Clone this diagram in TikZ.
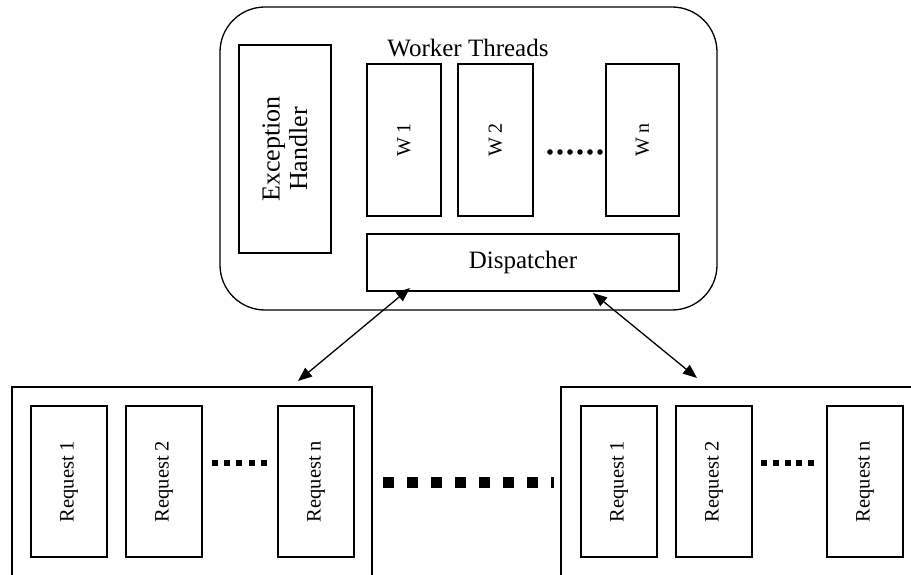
\documentclass[tikz,border=0pt]{standalone}
\usepackage{fontspec}
\setmainfont{Liberation Serif}
\usetikzlibrary{arrows.meta}
\begin{document}
\begin{tikzpicture}[x=1pt,y=-1pt,
  box/.style={draw, line width=1.2pt, inner sep=0pt},
  rbox/.style={box, rotate=90},
  wlab/.style={font=\fontsize{20}{22}\selectfont},
  rlab/.style={font=\fontsize{20.5}{22}\selectfont},
  big/.style={font=\fontsize{25}{27}\selectfont},
  link/.style={line width=1.3pt, {Triangle[length=14pt,width=11pt]}-{Triangle[length=14pt,width=11pt]}},
  sqdot/.style={fill=black}]
\useasboundingbox (0,0) rectangle (911,575);
\begin{scope}
\clip (0,0) rectangle (911,575);
% server
\node[box, rounded corners=45pt, line width=1.3pt, minimum width=497pt, minimum height=303pt] (server) at (468.5,158.5) {};
\node[big] (title) at (468,48) {Worker Threads};
\node[rbox, minimum width=208pt, minimum height=92pt, align=center, font=\fontsize{26}{27.5}\selectfont] (exc) at (285,149) {Exception\\Handler};
\node[rbox, wlab, minimum width=152pt, minimum height=74pt] (w1) at (404,140) {W 1};
\node[rbox, wlab, minimum width=152pt, minimum height=75pt] (w2) at (495.5,140) {W 2};
\node[rbox, wlab, minimum width=152pt, minimum height=73pt] (wn) at (642.5,140) {W n};
\node[box, big, minimum width=312pt, minimum height=57pt] (disp) at (523,262.5) {Dispatcher};
\foreach \i in {0,...,5} \fill (550+10*\i,152) circle (2.8pt);
% left queue
\node[box, minimum width=360pt, minimum height=213pt] (lq) at (192,493.5) {};
\node[rbox, rlab, minimum width=151pt, minimum height=76pt] (l1) at (69,481.5) {Request 1};
\node[rbox, rlab, minimum width=151pt, minimum height=76pt] (l2) at (164,481.5) {Request 2};
\node[rbox, rlab, minimum width=151pt, minimum height=76pt] (ln) at (316,481.5) {Request n};
\foreach \i in {0,...,4} \fill[sqdot] (212+12.2*\i,460) rectangle ++(6,6);
% right queue
\node[box, minimum width=369pt, minimum height=213pt] (rq) at (745.5,493.5) {};
\node[rbox, rlab, minimum width=151pt, minimum height=76pt] (r1) at (619,481.5) {Request 1};
\node[rbox, rlab, minimum width=151pt, minimum height=76pt] (r2) at (714,481.5) {Request 2};
\node[rbox, rlab, minimum width=151pt, minimum height=76pt] (rn) at (865,481.5) {Request n};
\foreach \i in {0,...,4} \fill[sqdot] (761+11.8*\i,460) rectangle ++(6,6);
% big dotted line between queues
\coordinate (bd1) at (383,482.5);
\coordinate (bd2) at (553.5,482.5);
\draw[line width=11pt, dash pattern=on 11pt off 13pt] (bd1) -- (bd2);
% arrows
\coordinate (a1) at (410,288);
\coordinate (a2) at (298,381);
\coordinate (b1) at (593,293);
\coordinate (b2) at (697,378);
\draw[link] (a2) -- (a1);
\draw[link] (b1) -- (b2);
\end{scope}
\end{tikzpicture}
\end{document}
